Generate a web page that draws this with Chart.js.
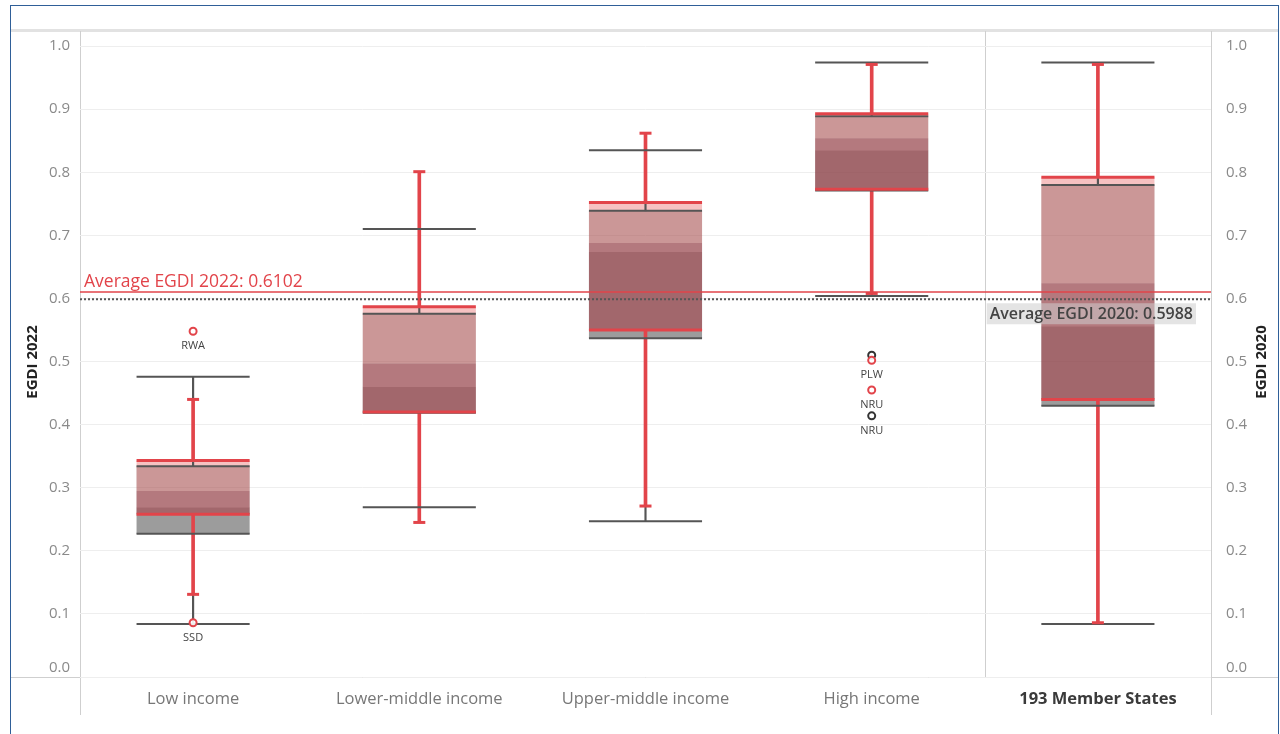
<!DOCTYPE html>
<html><head><meta charset="utf-8">
<script src="https://cdn.jsdelivr.net/npm/chart.js@4.4.1/dist/chart.umd.min.js"></script>
<style>
html,body{margin:0;padding:0;background:#fff;}
#wrap{position:relative;width:1280px;height:734px;overflow:hidden;}
#frame{position:absolute;left:10px;top:5px;width:1269px;height:760px;border:1px solid #2f5f98;box-sizing:border-box;pointer-events:none;}
canvas{position:absolute;left:0;top:0;}
</style></head>
<body><div id="wrap"><canvas id="c" width="1280" height="734"></canvas><div id="frame"></div></div>
<script>
const categories = ['Low income','Lower-middle income','Upper-middle income','High income','193 Member States'];
const yTicks = [0,0.1,0.2,0.3,0.4,0.5,0.6,0.7,0.8,0.9,1.0];

// EGDI 2022 box plot values
const whiskerHigh2022 = [0.440, 0.801, 0.862, 0.971, 0.971];
const q3_2022         = [0.343, 0.587, 0.752, 0.893, 0.792];
const median2022      = [0.295, 0.497, 0.688, 0.854, 0.624];
const q1_2022         = [0.258, 0.420, 0.550, 0.773, 0.440];
const whiskerLow2022  = [0.131, 0.245, 0.271, 0.608, 0.086];

// EGDI 2020 box plot values
const whiskerHigh2020 = [0.476, 0.710, 0.835, 0.974, 0.974];
const q3_2020         = [0.334, 0.576, 0.739, 0.889, 0.780];
const median2020      = [0.269, 0.460, 0.674, 0.835, 0.556];
const q1_2020         = [0.227, 0.419, 0.537, 0.771, 0.430];
const whiskerLow2020  = [0.084, 0.269, 0.247, 0.604, 0.084];

// outliers
const outlierCat2022  = ['Low income','Low income','High income','High income'];
const outlierVal2022  = [0.548, 0.086, 0.502, 0.455];
const outlierName2022 = ['RWA','SSD','PLW','NRU'];
const outlierCat2020  = ['High income','High income'];
const outlierVal2020  = [0.510, 0.414];
const outlierName2020 = ['PLW','NRU'];

const avg2022 = 0.6102;
const avg2020 = 0.5988;

const RED = '#e2444a';
const DARK = '#555555';
const FONT = "'Open Sans', 'DejaVu Sans', sans-serif";

const pair = (a,b) => a.map((v,i)=>[v,b[i]]);
const halfBox = c => c.chart.scales.x.width / categories.length * 0.25;

function boxBar(lo, hi, color, order){
  return {type:'bar', data: pair(lo,hi), backgroundColor: color, borderWidth:0,
    grouped:false, barPercentage:0.5, categoryPercentage:1, order, yAxisID:'y'};
}
function whiskBar(lo, hi, color, thick, order){
  return {type:'bar', data: pair(lo,hi), backgroundColor: color, borderWidth:0,
    grouped:false, barThickness: thick, order, yAxisID:'y'};
}
function tickLine(values, color, width, radius, order){
  return {type:'line', data: values, showLine:false, pointStyle:'line',
    pointRadius: radius, pointBorderColor: color, pointBorderWidth: width,
    pointBackgroundColor: color, order, clip:false, yAxisID:'y'};
}
function outliers(cats, vals, color, order){
  return {type:'line', data: cats.map((c,i)=>({x:c, y:vals[i]})), showLine:false,
    pointStyle:'circle', pointRadius:3.5, pointBorderWidth:2, pointBorderColor: color,
    pointBackgroundColor:'rgba(255,255,255,0.9)', order, clip:false, yAxisID:'y'};
}

const datasets = [
  boxBar(q1_2020, median2020, 'rgba(90,90,90,0.6)', 30),
  boxBar(median2020, q3_2020, 'rgba(90,90,90,0.4)', 29),
  boxBar(q1_2022, median2022, 'rgba(170,40,50,0.45)', 28),
  boxBar(median2022, q3_2022, 'rgba(230,80,80,0.35)', 27),
  whiskBar(whiskerLow2020, q1_2020, DARK, 1.5, 26),
  whiskBar(q3_2020, whiskerHigh2020, DARK, 1.5, 26),
  whiskBar(whiskerLow2022, q1_2022, RED, 3, 25),
  whiskBar(q3_2022, whiskerHigh2022, RED, 3, 25),
  tickLine(whiskerHigh2020, DARK, 2, halfBox, 20),
  tickLine(whiskerLow2020, DARK, 2, halfBox, 20),
  tickLine(q3_2020, DARK, 2, halfBox, 19),
  tickLine(q1_2020, DARK, 2, halfBox, 19),
  tickLine(whiskerHigh2022, RED, 3, 6, 18),
  tickLine(whiskerLow2022, RED, 3, 6, 18),
  tickLine(q3_2022, RED, 3, halfBox, 17),
  tickLine(q1_2022, RED, 3, halfBox, 17),
  outliers(outlierCat2020, outlierVal2020, '#333333', 6),
  outliers(outlierCat2022, outlierVal2022, RED, 5)
];
const OUT20 = 16, OUT22 = 17;

const decor = {
  id:'decor',
  beforeDraw(chart){
    const {ctx, chartArea:a, scales:{x}} = chart;
    ctx.save();
    ctx.fillStyle = '#e2e2e2';
    ctx.fillRect(10, a.top-2, 1268, 3);
    ctx.strokeStyle = '#cfcfcf'; ctx.lineWidth = 1;
    ctx.beginPath();
    ctx.moveTo(10, a.bottom+0.5); ctx.lineTo(1278, a.bottom+0.5);
    ctx.moveTo(a.left+0.5, a.top); ctx.lineTo(a.left+0.5, a.bottom+38);
    ctx.moveTo(a.right+0.5, a.top); ctx.lineTo(a.right+0.5, a.bottom+38);
    const sx = Math.round((x.getPixelForValue(3)+x.getPixelForValue(4))/2)+0.5;
    ctx.moveTo(sx, a.top); ctx.lineTo(sx, a.bottom);
    ctx.stroke();
    ctx.restore();
  },
  afterDatasetsDraw(chart){
    const {ctx, chartArea:a, scales:{y}} = chart;
    ctx.save();
    const yr = y.getPixelForValue(avg2022);
    const yb = y.getPixelForValue(avg2020);
    ctx.strokeStyle = RED; ctx.lineWidth = 1.5;
    ctx.beginPath(); ctx.moveTo(a.left, yr); ctx.lineTo(a.right, yr); ctx.stroke();
    ctx.strokeStyle = '#555'; ctx.lineWidth = 2; ctx.setLineDash([2,2]);
    ctx.beginPath(); ctx.moveTo(a.left, yb); ctx.lineTo(a.right, yb); ctx.stroke();
    ctx.setLineDash([]);
    ctx.font = '17.5px ' + FONT;
    ctx.fillStyle = RED; ctx.textAlign = 'left'; ctx.textBaseline = 'bottom';
    ctx.fillText('Average EGDI 2022: ' + avg2022.toFixed(4), a.left + 4, yr - 1);
    const t2 = 'Average EGDI 2020: ' + avg2020.toFixed(4);
    ctx.font = '600 16px ' + FONT;
    const w = ctx.measureText(t2).width;
    const rx = a.right - 18;
    ctx.fillStyle = 'rgba(205,205,205,0.55)';
    ctx.fillRect(rx - w - 3, yb + 4, w + 6, 21);
    ctx.fillStyle = '#444'; ctx.textAlign = 'right'; ctx.textBaseline = 'middle';
    ctx.fillText(t2, rx, yb + 15);
    // outlier labels
    ctx.font = '11px ' + FONT; ctx.fillStyle = '#444'; ctx.textAlign = 'center';
    const m22 = chart.getDatasetMeta(OUT22).data;
    m22.forEach((p,i)=> ctx.fillText(outlierName2022[i], p.x, p.y + 15));
    const m20 = chart.getDatasetMeta(OUT20).data;
    m20.forEach((p,i)=>{
      const dup = outlierName2022.some((n,j)=> n===outlierName2020[i] && outlierCat2022[j]===outlierCat2020[i]
        && Math.abs(outlierVal2022[j]-outlierVal2020[i]) < 0.02);
      if(!dup) ctx.fillText(outlierName2020[i], p.x, p.y + 15);
    });
    ctx.restore();
  },
  afterDraw(chart){
    const {ctx} = chart;
    ctx.save();
    ctx.font = 'bold 15px ' + FONT; ctx.fillStyle = '#222';
    ctx.textAlign = 'center'; ctx.textBaseline = 'middle';
    const cy = 362;
    [['EGDI 2022', 33], ['EGDI 2020', 1262]].forEach(([t, cx])=>{
      ctx.save(); ctx.translate(cx, cy); ctx.rotate(-Math.PI/2); ctx.fillText(t, 0, 0); ctx.restore();
    });
    ctx.restore();
  }
};

const tickLabel = v => v === 0 ? ['0.0',''] : Number(v).toFixed(1);

new Chart(document.getElementById('c'), {
  type:'bar',
  data:{labels: categories, datasets},
  options:{
    responsive:false, animation:false, events:[],
    layout:{padding:{left:10, right:2, top:31, bottom:0}},
    plugins:{legend:{display:false}, tooltip:{enabled:false}},
    scales:{
      x:{
        grid:{display:false}, border:{display:false},
        ticks:{padding:4, color: c => c.index === categories.length-1 ? '#3a3a3a' : '#777',
          font: c => ({family:FONT, size:16.5, weight: c.index === categories.length-1 ? 'bold' : 'normal'}),
          maxRotation:0, autoSkip:false},
        afterFit: s => { s.height = 57; }
      },
      y:{
        position:'left', min:0, max:1.024,
        grid:{color:'#eeeeee', lineWidth:1, drawTicks:false}, border:{display:false},
        afterBuildTicks: s => { s.ticks = yTicks.map(v=>({value:v})); },
        ticks:{padding:10, color:'#8a8a8a', font:{family:FONT, size:15, lineHeight:1.2}, callback: tickLabel},
        afterFit: s => { s.width = 70; }
      },
      y2:{
        position:'right', min:0, max:1.024,
        grid:{display:false, drawTicks:false}, border:{display:false},
        afterBuildTicks: s => { s.ticks = yTicks.map(v=>({value:v})); },
        ticks:{padding:15, color:'#8a8a8a', font:{family:FONT, size:15, lineHeight:1.2}, callback: tickLabel},
        afterFit: s => { s.width = 67; }
      }
    }
  },
  plugins:[decor]
});
</script>
</body></html>
